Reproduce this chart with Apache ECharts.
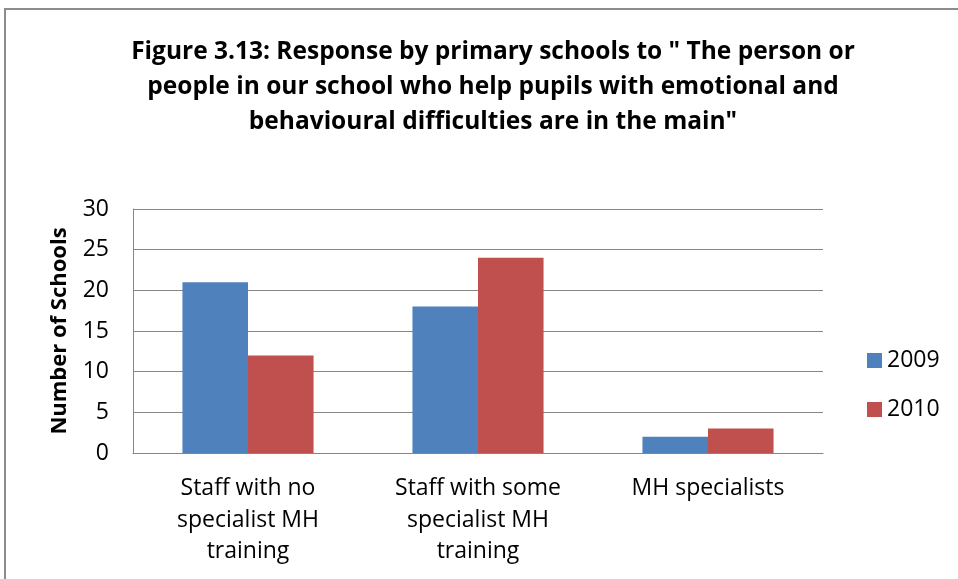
<!DOCTYPE html>
<html>
<head>
<meta charset="utf-8">
<script src="https://cdn.jsdelivr.net/npm/echarts@6/dist/echarts.min.js"></script>
<style>
  html, body { margin: 0; padding: 0; background: #fff; }
  #frame { position: absolute; left: 4px; top: 8px; width: 970px; height: 590px; border: 2px solid #8c8c8c; box-sizing: border-box; }
  #chart { position: absolute; left: 0; top: 0; width: 958px; height: 579px; }
</style>
</head>
<body>
<div id="frame"></div>
<div id="chart"></div>
<script>
// data
var categories = ['Staff with no\nspecialist MH\ntraining', 'Staff with some\nspecialist MH\ntraining', 'MH specialists'];
var values2009 = [21, 18, 2];
var values2010 = [12, 24, 3];
var seriesNames = ['2009', '2010'];

var font = "'Open Sans', sans-serif";
var chart = echarts.init(document.getElementById('chart'));

chart.setOption({
    animation: false,
    title: {
        text: "Figure 3.13: Response by primary schools to \" The person or\npeople in our school who help pupils with emotional and\nbehavioural difficulties are in the main\"",
        left: 488,
        textAlign: 'center',
        top: 30,
        textStyle: { fontFamily: font, fontWeight: 'bold', fontSize: 24.5, lineHeight: 35, color: '#000' }
    },
    legend: {
        orient: 'vertical',
        left: 862,
        top: 344,
        itemWidth: 15,
        itemHeight: 15,
        itemGap: 26,
        icon: 'rect',
        textStyle: { fontFamily: font, fontSize: 23, color: '#000', padding: [0, 0, 0, 0] },
        data: seriesNames
    },
    grid: { left: 133, right: 135, top: 209, bottom: 126 },
    xAxis: {
        type: 'category',
        data: categories,
        axisLine: { lineStyle: { color: '#868686' } },
        axisTick: { show: false },
        axisLabel: { fontFamily: font, fontSize: 23, color: '#000', lineHeight: 31.5, margin: 20, interval: 0 }
    },
    yAxis: {
        type: 'value',
        min: 0, max: 30, interval: 5,
        name: 'Number of Schools',
        nameLocation: 'middle',
        nameGap: 62,
        nameTextStyle: { fontFamily: font, fontSize: 22, fontWeight: 'bold', color: '#000' },
        axisLine: { show: true, lineStyle: { color: '#868686' } },
        axisTick: { show: false },
        axisLabel: { fontFamily: font, fontSize: 23, color: '#000', margin: 24 },
        splitLine: { lineStyle: { color: '#868686' } }
    },
    series: [
        {
            name: seriesNames[0], type: 'bar', data: values2009,
            barGap: '0%', barCategoryGap: '43%',
            itemStyle: { color: '#4F81BD' }
        },
        {
            name: seriesNames[1], type: 'bar', data: values2010,
            itemStyle: { color: '#C0504D' }
        }
    ]
});
</script>
</body>
</html>
